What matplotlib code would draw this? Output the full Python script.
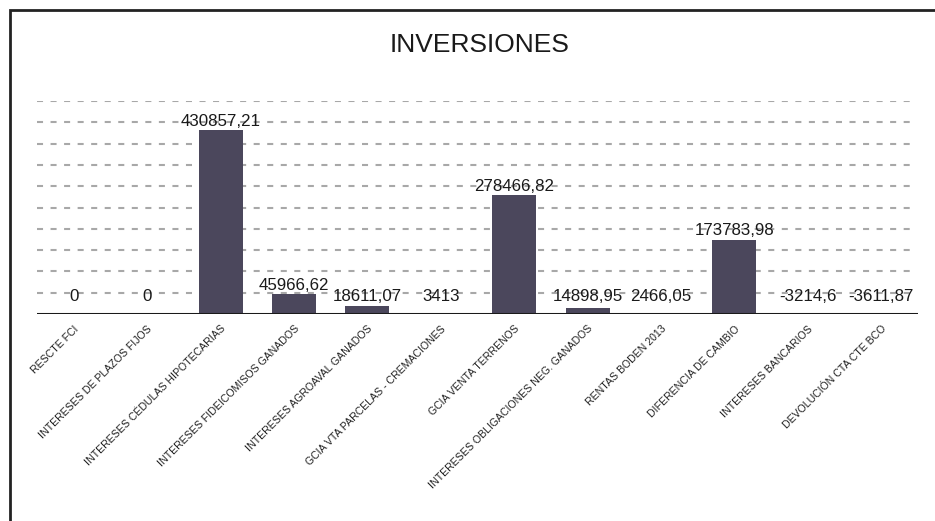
import matplotlib.pyplot as plt
from matplotlib.patches import Rectangle
import numpy as np

plt.rcParams['font.family'] = ['Liberation Sans', 'DejaVu Sans']

# datos
categorias = ['RESCTE FCI', 'INTERESES DE PLAZOS FIJOS', 'INTERESES CÉDULAS HIPOTECARIAS',
              'INTERESES FIDEICOMISOS GANADOS', 'INTERESES AGROAVAL GANADOS',
              'GCIA VTA PARCELAS - CREMACIONES', 'GCIA VENTA TERRENOS',
              'INTERESES OBLIGACIONES NEG. GANADOS', 'RENTAS BODEN 2013',
              'DIFERENCIA DE CAMBIO', 'INTERESES BANCARIOS', 'DEVOLUCIÓN CTA CTE BCO']
valores = [0, 0, 430857.21, 45966.62, 18611.07, 3413, 278466.82, 14898.95,
           2466.05, 173783.98, -3214.6, -3611.87]
grid_vals = np.arange(50000, 500001, 50000)

def fmt(v):
    s = ('%.2f' % v).rstrip('0').rstrip('.')
    return s.replace('.', ',')

fig = plt.figure(figsize=(9.35, 5.21), dpi=100)
# marco
fig.patches.append(Rectangle((10 / 935, -0.1), 1.2, 1 - 10 / 521 + 0.1,
                             transform=fig.transFigure, fill=False,
                             edgecolor='#222222', linewidth=2))

ax = fig.add_axes([37 / 935, 1 - 314 / 521, (918 - 37) / 935, 213 / 521])
x = np.arange(len(categorias))
ax.bar(x, valores, width=0.6, color='#4B475C', zorder=3)

for g in grid_vals:
    ax.axhline(g, color='#a8a8a8', linewidth=1.5, linestyle=(0, (2.9, 3.6)),
               xmax=0.992, zorder=1)
ax.axhline(0, color='#1a1a1a', linewidth=2.2, zorder=4)

ax.set_xlim(-0.5, len(categorias) - 0.5)
ax.set_ylim(0, 500000)

for xi, v in zip(x, valores):
    ax.annotate(fmt(v), (xi, max(v, 21000)), xytext=(0, 9), textcoords='offset pixels',
                ha='center', va='center', fontsize=12.2, color='#1a1a1a', zorder=5)

ax.set_xticks(x)
ax.set_xticklabels(categorias, rotation=45, ha='right', rotation_mode='anchor',
                   fontsize=7.6, color='#222222')
ax.tick_params(axis='x', length=0, pad=7)
ax.set_yticks([])
for s in ax.spines.values():
    s.set_visible(False)

fig.text(480 / 935, 1 - 45 / 521, 'INVERSIONES', ha='center', va='center',
         fontsize=19, color='#1a1a1a')

plt.savefig('out.png', dpi=100)
